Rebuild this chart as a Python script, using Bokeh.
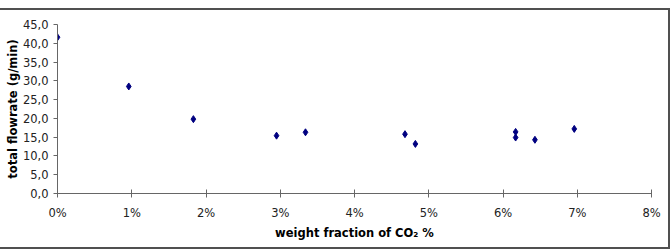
from bokeh.plotting import figure
from bokeh.models import Range1d, SingleIntervalTicker, CustomJSTickFormatter
from bokeh.embed import file_html
from bokeh.resources import INLINE

# data (weight fraction of CO2 in %, total flowrate in g/min)
co2_pct = [0.0, 0.96, 1.83, 2.95, 3.34, 4.68, 4.82, 6.17, 6.17, 6.43, 6.96]
flowrate = [41.6, 28.5, 19.8, 15.4, 16.3, 15.8, 13.2, 16.4, 14.9, 14.3, 17.2]

x_title = "weight fraction of CO\u2082 %"
y_title = "total flowrate (g/min)"

FONT = "DejaVu Sans"

p = figure(width=672, height=252, output_backend="svg", toolbar_location=None,
           x_range=Range1d(0, 8), y_range=Range1d(0, 45),
           min_border_left=57, min_border_right=21, min_border_top=24, min_border_bottom=59)
p.outline_line_color = None
p.xgrid.visible = False
p.ygrid.visible = False

p.scatter(co2_pct, flowrate, marker="diamond", size=7, fill_color="#000080", line_color="#000080")

p.xaxis.ticker = SingleIntervalTicker(interval=1, num_minor_ticks=0)
p.yaxis.ticker = SingleIntervalTicker(interval=5, num_minor_ticks=0)
p.xaxis.formatter = CustomJSTickFormatter(code="return tick.toFixed(0) + '%';")
p.yaxis.formatter = CustomJSTickFormatter(code="return tick.toFixed(1).replace('.', ',');")

for ax in (p.xaxis[0], p.yaxis[0]):
    ax.axis_line_color = "#666666"
    ax.major_tick_line_color = "#666666"
    ax.minor_tick_line_color = None
    ax.major_label_text_font = FONT
    ax.major_label_text_font_size = "11.5px"
    ax.major_label_text_color = "#222222"
    ax.axis_label_text_font = FONT
    ax.axis_label_text_font_size = "11.5px"
    ax.axis_label_text_font_style = "bold"
    ax.axis_label_text_color = "#000000"

p.xaxis.axis_label = x_title
p.yaxis.axis_label = y_title
p.xaxis.major_tick_in = 4
p.xaxis.major_tick_out = 4
p.yaxis.major_tick_in = 0
p.yaxis.major_tick_out = 4
p.xaxis.major_label_standoff = 8
p.xaxis.axis_label_standoff = 3
p.yaxis.major_label_standoff = 5
p.yaxis.axis_label_standoff = 0

html = file_html(p, INLINE)
# chart-area border drawn over the page (as in the original spreadsheet chart)
frame_div = ('<div style="position:fixed;left:-3px;top:8px;right:2px;bottom:3px;'
             'border:2px solid #505050;pointer-events:none;z-index:10"></div>')
html = html.replace("</body>", frame_div + "</body>")
open("out.html", "w").write(html)
